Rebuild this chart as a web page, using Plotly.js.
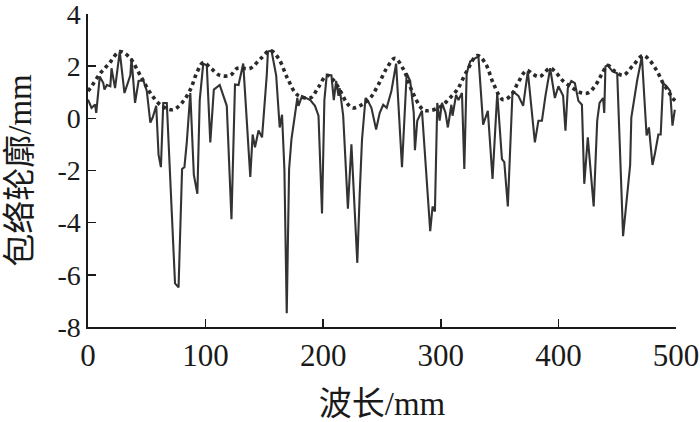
<!DOCTYPE html>
<html>
<head>
<meta charset="utf-8">
<script src="https://cdn.plot.ly/plotly-3.0.1.min.js"></script>
<style>html,body{margin:0;padding:0;background:#fff;}#chart{width:700px;height:422px;}</style>
</head>
<body>
<div id="chart"></div>
<script>
// Measured profile (solid line)
var profileX = [0,3,6,7,10,13,14,16,19,20,23,27,31,36,37,40,43,47,50,53,55,58,60,62,64,67,74,77,80,82,84,87,90,93,95,98,101,104,107,112,118,122,125,128,132,138,140,142,145,148,152,153,156,160,163,165,167,169,171,173,178,179,182,189,193,196,199,201,203,207,209,211,213,214,217,221,224,229,231,233,236,238,241,245,248,251,254,258,262,267,271,274,277,278,280,284,291,293,295,297,299,301,304,306,309,310,313,315,318,320,322,325,329,332,336,340,344,348,352,354,357,360,361,366,370,374,380,383,386,389,393,397,400,404,406,408,411,414,417,420,422,425,430,433,435,438,439,440,442,446,450,455,461,462,467,471,475,477,480,482,485,487,489,492,495,497,499];
var profileY = [0.72,0.4,0.53,0.21,1.6,1.35,1.1,1.28,1.23,1.92,1.16,2.56,0.97,1.65,2.3,0.59,1.43,1.46,1.05,-0.16,0.03,0.48,-1.4,-1.87,0.59,0.59,-6.33,-6.48,-1.94,-1.87,-0.92,0.97,-2.17,-2.89,0.7,2.1,2.03,-0.92,1.1,1.28,0.48,-3.87,1.3,1.28,2.1,-2.25,-0.62,-1.11,-0.47,-0.73,1.65,2.56,2.6,1.65,-0.35,0.14,-1.94,-7.47,-1.94,-0.81,0.78,0.48,0.86,0.7,0.48,0.1,-3.65,0.7,1.65,1.65,0.7,1.43,0.86,1.16,0.1,-3.46,-1.0,-5.54,-2.93,-0.81,0.78,0.67,0.4,-0.43,0.2,0.52,0.4,1.05,2.1,-1.87,1.73,1.43,0.21,-1.22,-0.09,0.29,-4.33,-3.38,-3.57,0.59,-0.09,0.59,0.21,-0.35,0.52,0.1,0.9,0.7,0.97,-1.94,1.73,2.18,2.3,2.37,-0.24,0.29,-2.32,0.97,-1.56,-1.68,-3.38,-0.28,1.05,0.86,0.48,1.8,-0.92,-0.09,-0.09,0.86,1.92,0.78,1.23,0.86,-0.47,1.16,1.43,1.35,0.67,0.52,-2.51,-0.73,-3.38,-0.09,0.59,0.78,0.21,1.99,2.03,1.8,1.73,-4.52,-1.79,0.03,1.46,2.37,-0.66,-0.35,-1.79,-1.37,-0.62,-0.62,1.35,1.23,1.05,-0.28,0.33];

// Envelope (dotted line)
var envelopeX = [0,2,10,18,27,35,45,53,62,72,80,87,93,98,105,112,121,127,138,147,155,162,170,178,189,196,203,208,214,220,225,232,240,247,254,261,268,276,285,291,300,307,314,322,331,338,345,353,360,366,373,378,384,393,398,404,411,418,425,432,437,442,448,455,463,472,478,484,489,494,497,500];
var envelopeY = [1.05,1.16,1.7,2.1,2.56,2.35,1.6,0.97,0.5,0.33,0.6,1.1,1.8,2.14,1.9,1.65,1.65,1.92,1.92,2.3,2.6,2.3,1.5,0.9,0.78,1.2,1.65,1.5,1.1,0.6,0.4,0.5,0.78,1.3,1.92,2.3,1.9,1.0,0.33,0.3,0.45,0.75,1.1,1.8,2.41,2.1,1.3,0.71,0.9,1.4,1.84,1.7,1.6,1.92,1.75,1.43,1.2,1.0,0.97,1.3,1.7,2.03,1.8,1.65,2.0,2.41,2.2,1.8,1.35,1.0,0.78,0.65];

var xTickVals = [0,100,200,300,400,500];
var xTickText = ["0","100","200","300","400","500"];
var yTickVals = [-8,-6,-4,-2,0,2,4];
var yTickText = ["-8","-6","-4","-2","0","2","4"];

var serif = "'Liberation Serif', 'Times New Roman', 'Noto Sans CJK SC', serif";

var traces = [
  {x: profileX, y: profileY, type: 'scatter', mode: 'lines',
   line: {color: '#333333', width: 2.1}, showlegend: false, hoverinfo: 'skip'},
  {x: envelopeX, y: envelopeY, type: 'scatter', mode: 'lines', line: {color: '#2a2a2a', width: 3.6, dash: 'dot', shape: 'spline'},
   showlegend: false, hoverinfo: 'skip'}
];

var layout = {
  width: 700, height: 422,
  margin: {l: 88, r: 24, t: 14, b: 95},
  paper_bgcolor: '#fff', plot_bgcolor: '#fff',
  showlegend: false,
  font: {family: serif, color: '#1a1a1a', size: 29},
  xaxis: {
    range: [0, 500], showgrid: false, zeroline: false,
    showline: true, linecolor: '#1a1a1a', linewidth: 1.6,
    ticks: 'inside', ticklen: 8, tickwidth: 1.6, tickcolor: '#1a1a1a',
    tickvals: xTickVals, ticktext: xTickText, ticklabeloverflow: 'allow',
    tickfont: {family: serif, size: 31, color: '#1a1a1a'},
    title: {text: '波长/mm', font: {family: serif, size: 33, color: '#1a1a1a'}, standoff: 20},
    automargin: false, fixedrange: true
  },
  yaxis: {
    range: [-8, 4], showgrid: false, zeroline: false,
    showline: true, linecolor: '#1a1a1a', linewidth: 1.6,
    ticks: 'inside', ticklen: 8, tickwidth: 1.6, tickcolor: '#1a1a1a',
    tickvals: yTickVals, ticktext: yTickText, ticklabeloverflow: 'allow',
    tickfont: {family: serif, size: 28, color: '#1a1a1a'},
    title: {text: '包络轮廓/mm', font: {family: serif, size: 33, color: '#1a1a1a'}, standoff: 16},
    automargin: false, fixedrange: true
  }
};

Plotly.newPlot('chart', traces, layout, {staticPlot: true, displayModeBar: false});
</script>
</body>
</html>
